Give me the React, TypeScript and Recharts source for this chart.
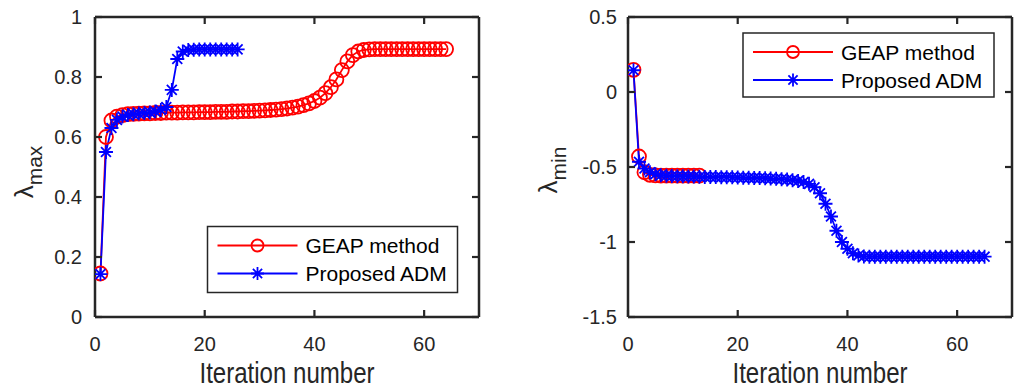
import React from "react";
import { LineChart, Line, XAxis, YAxis } from "recharts";

// lambda_max per iteration (left panel)
const geapMax = [
  0.145, 0.6, 0.655, 0.668, 0.673, 0.676, 0.677, 0.678, 0.679, 0.679,
  0.68, 0.68, 0.681, 0.681, 0.681, 0.682, 0.682, 0.682, 0.683, 0.683,
  0.683, 0.684, 0.684, 0.684, 0.685, 0.685, 0.686, 0.686, 0.687, 0.688,
  0.689, 0.69, 0.691, 0.693, 0.695, 0.698, 0.701, 0.706, 0.712, 0.72,
  0.731, 0.746, 0.766, 0.792, 0.823, 0.852, 0.873, 0.885, 0.89, 0.892,
  0.893, 0.893, 0.893, 0.893, 0.893, 0.893, 0.893, 0.893, 0.893, 0.893,
  0.893, 0.893, 0.893, 0.893,
];
const admMax = [
  0.143, 0.55, 0.63, 0.657, 0.668, 0.673, 0.676, 0.678, 0.68, 0.682,
  0.685, 0.69, 0.7, 0.757, 0.86, 0.885, 0.89, 0.891, 0.892, 0.892,
  0.892, 0.892, 0.892, 0.892, 0.892, 0.892,
];

// lambda_min per iteration (right panel)
const geapMin = [
  0.148, -0.43, -0.535, -0.552, -0.556, -0.557, -0.558, -0.558, -0.558,
  -0.558, -0.558, -0.558, -0.558,
];
const admMin = [
  0.145, -0.465, -0.51, -0.535, -0.548, -0.555, -0.558, -0.56, -0.561,
  -0.562, -0.563, -0.564, -0.565, -0.566, -0.566, -0.567, -0.568, -0.568,
  -0.569, -0.57, -0.571, -0.572, -0.573, -0.574, -0.575, -0.577, -0.579,
  -0.581, -0.584, -0.588, -0.593, -0.6, -0.612, -0.635, -0.675, -0.745,
  -0.83, -0.925, -1.0, -1.045, -1.075, -1.09, -1.096, -1.098, -1.098,
  -1.098, -1.098, -1.098, -1.098, -1.098, -1.098, -1.098, -1.098, -1.098,
  -1.098, -1.098, -1.098, -1.098, -1.098, -1.098, -1.098, -1.098, -1.098,
  -1.098, -1.098,
];

const xTicks = [0, 20, 40, 60];
const yTicksMax = [0, 0.2, 0.4, 0.6, 0.8, 1];
const yTicksMin = [-1.5, -1, -0.5, 0, 0.5];

const seriesNames = ["GEAP method", "Proposed ADM"];

const RED = "#ff0000";
const BLUE = "#0000ff";
const INK = "#262626";
const FONT = "'Liberation Sans', Arial, sans-serif";
const TICK_LEN = 7;
const PLOT_TOP = 17;

const toPoints = (vals: number[]) => vals.map((v, i) => ({ it: i + 1, v }));

// asterisk marker like matlab '*'
const starPath = (cx: number, cy: number, r: number) => {
  const d = r * 0.7071;
  return (
    `M${cx - r},${cy}H${cx + r}M${cx},${cy - r}V${cy + r}` +
    `M${cx - d},${cy - d}L${cx + d},${cy + d}M${cx - d},${cy + d}L${cx + d},${cy - d}`
  );
};

const starDot = (p: any) => {
  if (p.cx == null || p.cy == null) return <g key={`s-${p.index}`} />;
  return (
    <path
      key={`s-${p.index}`}
      d={starPath(p.cx, p.cy, 7)}
      stroke={BLUE}
      strokeWidth={1.8}
      fill="none"
    />
  );
};

// bottom axis tick: inward mark at bottom and at top (box on), plus label
const bottomTick = (margin: number) => (p: any) => {
  const axisY = p.y - margin;
  return (
    <g>
      <line x1={p.x} x2={p.x} y1={axisY} y2={axisY - TICK_LEN} stroke={INK} strokeWidth={2.2} />
      <line x1={p.x} x2={p.x} y1={PLOT_TOP} y2={PLOT_TOP + TICK_LEN} stroke={INK} strokeWidth={2.2} />
      <text x={p.x} y={p.y} dy="0.71em" textAnchor="middle" fontSize={20} fontFamily={FONT} fill={INK}>
        {String(p.payload.value)}
      </text>
    </g>
  );
};

// left axis tick: inward mark at left and at right edge, plus label
const leftTick = (margin: number, plotRight: number) => (p: any) => {
  const axisX = p.x + margin;
  return (
    <g>
      <line x1={axisX} x2={axisX + TICK_LEN} y1={p.y} y2={p.y} stroke={INK} strokeWidth={2.2} />
      <line x1={plotRight} x2={plotRight - TICK_LEN} y1={p.y} y2={p.y} stroke={INK} strokeWidth={2.2} />
      <text x={p.x} y={p.y} dy="0.36em" textAnchor="end" fontSize={20} fontFamily={FONT} fill={INK}>
        {String(p.payload.value)}
      </text>
    </g>
  );
};

const axisStyle = { stroke: INK, strokeWidth: 2.5 };

interface PanelProps {
  left: number;
  width: number;
  plotLeft: number;
  plotRight: number;
  geap: number[];
  adm: number[];
  yDomain: [number, number];
  yTicks: number[];
  yTickMargin: number;
}

function Panel({
  left,
  width,
  plotLeft,
  plotRight,
  geap,
  adm,
  yDomain,
  yTicks,
  yTickMargin,
}: PanelProps) {
  return (
    <div style={{ position: "absolute", left, top: 0 }}>
      <LineChart
        width={width}
        height={388}
        margin={{ top: PLOT_TOP - 1, right: width - plotRight - 1, left: 0, bottom: 31 }}
      >
        <XAxis
          type="number"
          dataKey="it"
          domain={[0, 70]}
          ticks={xTicks}
          height={40}
          stroke={INK}
          tickSize={0}
          tickMargin={20}
          axisLine={axisStyle}
          tickLine={false}
          tick={bottomTick(20)}
          allowDataOverflow
        />
        <XAxis
          xAxisId="top"
          orientation="top"
          type="number"
          domain={[0, 70]}
          height={1}
          stroke={INK}
          axisLine={axisStyle}
          tickLine={false}
          tick={false}
          allowDataOverflow
        />
        <YAxis
          type="number"
          domain={yDomain}
          ticks={yTicks}
          width={plotLeft}
          stroke={INK}
          tickSize={0}
          tickMargin={yTickMargin}
          axisLine={axisStyle}
          tickLine={false}
          tick={leftTick(yTickMargin, plotRight)}
          allowDataOverflow
        />
        <YAxis
          yAxisId="right"
          orientation="right"
          type="number"
          domain={yDomain}
          width={1}
          stroke={INK}
          axisLine={axisStyle}
          tickLine={false}
          tick={false}
          allowDataOverflow
        />
        <Line
          data={toPoints(geap)}
          dataKey="v"
          name={seriesNames[0]}
          stroke={RED}
          strokeWidth={1.8}
          dot={{ r: 7, stroke: RED, strokeWidth: 1.8, fill: "none" }}
          isAnimationActive={false}
        />
        <Line
          data={toPoints(adm)}
          dataKey="v"
          name={seriesNames[1]}
          stroke={BLUE}
          strokeWidth={1.8}
          dot={starDot}
          isAnimationActive={false}
        />
      </LineChart>
    </div>
  );
}

function LegendBox({ x, y, w, h }: { x: number; y: number; w: number; h: number }) {
  const rows = [y + 19, y + 47];
  return (
    <g>
      <rect x={x} y={y} width={w} height={h} fill="#fff" stroke={INK} strokeWidth={1.5} />
      {seriesNames.map((name, i) => {
        const color = i === 0 ? RED : BLUE;
        const cy = rows[i];
        return (
          <g key={name}>
            <line x1={x + 10} x2={x + 90} y1={cy} y2={cy} stroke={color} strokeWidth={1.8} />
            {i === 0 ? (
              <circle cx={x + 50} cy={cy} r={6} stroke={color} strokeWidth={1.8} fill="none" />
            ) : (
              <path d={starPath(x + 50, cy, 6.5)} stroke={color} strokeWidth={1.8} fill="none" />
            )}
            <text x={x + 98} y={cy + 7.5} fontSize={21} fontFamily={FONT} fill="#000">
              {name}
            </text>
          </g>
        );
      })}
    </g>
  );
}

function YTitle({ x, y, sub }: { x: number; y: number; sub: string }) {
  return (
    <text
      transform={`translate(${x}, ${y}) rotate(-90)`}
      textAnchor="middle"
      fontFamily={FONT}
      fill={INK}
    >
      <tspan fontSize={26}>λ</tspan>
      <tspan fontSize={21} dy={9}>
        {sub}
      </tspan>
    </text>
  );
}

export default function App() {
  return (
    <div
      style={{
        position: "absolute",
        left: 0,
        top: 0,
        width: 1019,
        height: 388,
        background: "#fff",
        overflow: "hidden",
      }}
    >
      <Panel
        left={0}
        width={510}
        plotLeft={95}
        plotRight={479}
        geap={geapMax}
        adm={admMax}
        yDomain={[0, 1]}
        yTicks={yTicksMax}
        yTickMargin={13}
      />
      <Panel
        left={510}
        width={509}
        plotLeft={118}
        plotRight={502}
        geap={geapMin}
        adm={admMin}
        yDomain={[-1.5, 0.5]}
        yTicks={yTicksMin}
        yTickMargin={11}
      />
      <svg
        width={1019}
        height={388}
        style={{ position: "absolute", left: 0, top: 0, pointerEvents: "none" }}
      >
        <text x={287} y={383} textAnchor="middle" fontSize={29} textLength={175} lengthAdjust="spacingAndGlyphs" fontFamily={FONT} fill={INK}>
          Iteration number
        </text>
        <text x={820} y={383} textAnchor="middle" fontSize={29} textLength={175} lengthAdjust="spacingAndGlyphs" fontFamily={FONT} fill={INK}>
          Iteration number
        </text>
        <YTitle x={33} y={172} sub="max" />
        <YTitle x={557} y={170} sub="min" />
        <LegendBox x={207.5} y={226.5} w={250} h={66} />
        <LegendBox x={743} y={33} w={251} h={64} />
      </svg>
    </div>
  );
}
